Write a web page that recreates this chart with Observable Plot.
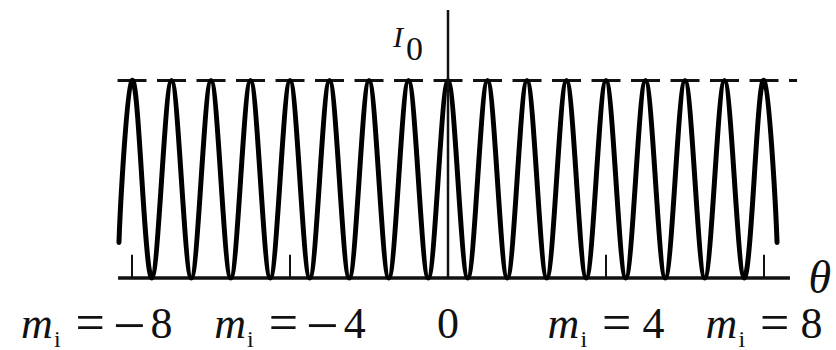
<!DOCTYPE html>
<html>
<head>
<meta charset="utf-8">
<script src="https://cdn.jsdelivr.net/npm/d3@7"></script>
<script src="https://cdn.jsdelivr.net/npm/@observablehq/plot@0.6"></script>
<style>
  html, body { margin: 0; padding: 0; background: #fff; }
  #chart svg { display: block; }
  #chart svg text, #chart svg tspan { font-family: "Liberation Serif", serif !important; }
</style>
</head>
<body>
<div id="chart"></div>
<script>
// Two-beam interference: intensity against angle θ, in units of fringe order m_i.
// Bright fringes reach I0 at every integer order
const brightOrders = [-8, -7, -6, -5, -4, -3, -2, -1, 0, 1, 2, 3, 4, 5, 6, 7, 8];
// Dark fringes sit halfway between, where the intensity drops to zero
const darkOrders = [-7.5, -6.5, -5.5, -4.5, -3.5, -2.5, -1.5, -0.5, 0.5, 1.5, 2.5, 3.5, 4.5, 5.5, 6.5, 7.5];
// Flanks where the trace passes through half of I0
const halfOrders = [-8.25, -7.75, -7.25, -6.75, -6.25, -5.75, -5.25, -4.75, -4.25, -3.75, -3.25, -2.75,
  -2.25, -1.75, -1.25, -0.75, -0.25, 0.25, 0.75, 1.25, 1.75, 2.25, 2.75, 3.25, 3.75, 4.25, 4.75,
  5.25, 5.75, 6.25, 6.75, 7.25, 7.75, 8.25];
// Where the trace is cut off on either side, and its level there (fraction of I0)
const traceEndOrders = [-8.33, 8.33];
const traceEndLevel = 0.18;
// Orders labelled under the θ axis
const labelOrders = [-8, -4, 0, 4, 8];
const labelTexts = ["mi = −8", "mi = −4", "0", "mi = 4", "mi = 8"];

// One table of (order, relative intensity) points for the line mark
const trace = [
  ...brightOrders.map(m => ({m, I: 1})),
  ...darkOrders.map(m => ({m, I: 0})),
  ...halfOrders.map(m => ({m, I: 0.5})),
  ...traceEndOrders.map(m => ({m, I: traceEndLevel}))
].sort((a, b) => a.m - b.m);

const tickOrders = labelOrders.filter(d => d !== 0);

const W = 836, H = 350;
const pxPerOrder = 39.5, originX = 447.5;   // θ = 0 position
const pxPerI = 197.5, baseY = 277.5;        // I = 0 position
const ink = "#111";
const serif = "Liberation Serif";

const chart = Plot.plot({
  width: W,
  height: H,
  margin: 0,
  style: {background: "#fff", fontFamily: serif, color: ink},
  x: {domain: [-originX / pxPerOrder, (W - originX) / pxPerOrder], axis: null},
  y: {domain: [-(H - baseY) / pxPerI, baseY / pxPerI], axis: null},
  marks: [
    // θ axis
    Plot.ruleY([0], {x1: -8.34, x2: 8.67, stroke: ink, strokeWidth: 3.5}),
    // dashed I0 level
    Plot.ruleY([1], {x1: -8.354, x2: 8.85, stroke: ink, strokeWidth: 3, strokeDasharray: "29 10.5"}),
    // small ticks at the labelled orders
    Plot.ruleX(tickOrders, {y1: 0, y2: 0.115, stroke: ink, strokeWidth: 2}),
    // the fringe pattern
    Plot.line(trace, {x: "m", y: "I", curve: "natural", stroke: "#000", strokeWidth: 5, strokeLinejoin: "round"}),
    // intensity axis
    Plot.ruleX([0], {y1: 0, y2: 1.354, stroke: ink, strokeWidth: 2.5}),
    // order labels (the leftmost one is pulled further left)
    Plot.text(labelOrders, {
      x: d => d === -8 ? d - 0.89 : d,
      y: -0.304,
      text: (d, i) => labelTexts[i],
      fontFamily: serif,
      fontSize: 44,
      textAnchor: "middle",
      lineAnchor: "bottom",
      fill: ink
    }),
    // axis names
    Plot.text(["I0"], {x: 0, y: 1, dx: -25, dy: -34, fontFamily: serif, fontSize: 30, textAnchor: "end", lineAnchor: "bottom", fill: ink}),
    Plot.text(["θ"], {x: 9.127, y: 0, dy: 14.5, fontFamily: serif, fontSize: 46, fontStyle: "italic", textAnchor: "start", lineAnchor: "bottom", fill: ink})
  ]
});

// Typeset italics and subscripts with tspans
const NS = "http://www.w3.org/2000/svg";
function setParts(el, parts) {
  el.textContent = "";
  for (const p of parts) {
    const t = document.createElementNS(NS, "tspan");
    t.textContent = p.text;
    t.setAttribute("font-family", serif);
    for (const [k, v] of Object.entries(p.attrs || {})) t.setAttribute(k, v);
    el.appendChild(t);
  }
}
chart.querySelectorAll("text").forEach(el => {
  const s = el.textContent;
  if (s === "I0") {
    setParts(el, [
      {text: "I", attrs: {"font-style": "italic"}},
      {text: "0", attrs: {"font-size": 34, dy: 13, dx: 3}}
    ]);
  } else if (s.startsWith("mi")) {
    const value = s.split("=")[1].trim();
    // baseline shifts: subscript down 9, "=" back up to +2, minus +7, digits back to 0
    const parts = [
      {text: "m", attrs: {"font-style": "italic"}},
      {text: "i", attrs: {"font-size": 24, dy: 9, dx: 1}},
      {text: "=", attrs: {"font-size": 52, dy: -7, dx: 15}}
    ];
    if (value.startsWith("−")) {
      parts.push({text: "−", attrs: {"font-size": 58, dx: 8, dy: 5}});
      parts.push({text: value.slice(1), attrs: {dx: 5, dy: -7}});
    } else {
      parts.push({text: value, attrs: {dx: 11, dy: -2}});
    }
    setParts(el, parts);
  }
});

document.getElementById("chart").appendChild(chart);
</script>
</body>
</html>
